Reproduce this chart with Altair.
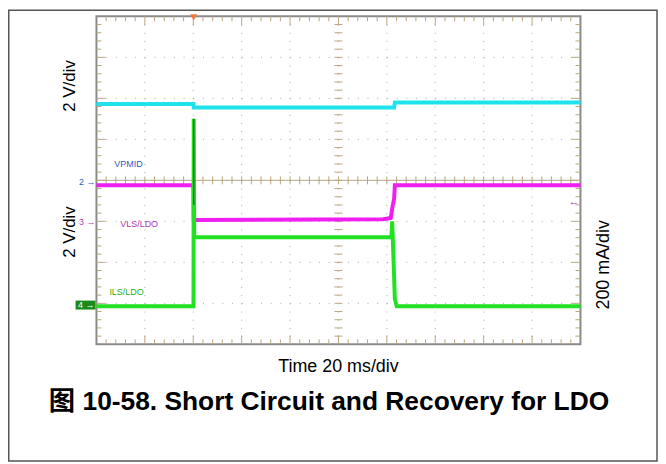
import altair as alt
import pandas as pd

# ---- data (time in ms: 20 ms/div x 10 div; vertical in screen divisions -4..4) ----
vpmid_t = [0, 40.1, 40.2, 123.0, 123.3, 200]
vpmid_v = [1.86, 1.86, 1.775, 1.775, 1.90, 1.90]

vls_t = [0, 40.1, 40.2, 118.5, 121.6, 122.4, 123.0, 123.3, 200]
vls_v = [-0.12, -0.12, -0.97, -0.95, -0.92, -0.62, -0.45, -0.12, -0.12]

ils_t = [0, 40.1, 40.2, 40.4, 121.9, 122.2, 122.5, 122.9, 123.3, 124.1, 200]
ils_v = [-3.07, -3.07, 1.5, -1.39, -1.39, -1.0, -1.5, -2.2, -2.9, -3.07, -3.07]

spike_t = [40.2, 40.2]
spike_v = [1.5, -0.6]

trigger_t = [40.2]

grid_t = [20, 40, 60, 80, 100, 120, 140, 160, 180]
grid_v = [-3, -2, -1, 0, 1, 2, 3]

W, H = 487, 330
TAN = "#b7a680"

rows = []
for name, ts, vs in [("VPMID", vpmid_t, vpmid_v), ("VLS/LDO", vls_t, vls_v), ("ILS/LDO", ils_t, ils_v)]:
    for i, (t, v) in enumerate(zip(ts, vs)):
        rows.append({"series": name, "t": t, "v": v, "i": i})
traces = pd.DataFrame(rows)
spike = pd.DataFrame({"t": spike_t, "v": spike_v, "i": [0, 1]})

xs = alt.Scale(domain=[0, 200], nice=False, zero=False)
ys = alt.Scale(domain=[-4, 4], nice=False, zero=False)
X = alt.X("t:Q", scale=xs, axis=None)
Y = alt.Y("v:Q", scale=ys, axis=None)

minor_t = [t for t in range(4, 200, 4) if t % 20 != 0]
major_t = [t for t in range(20, 200, 20)]
minor_v = [round(-4 + 0.2 * k, 2) for k in range(1, 40) if k % 5 != 0]
major_v = [round(-4 + 1.0 * k, 2) for k in range(1, 8)]
all_t = pd.DataFrame({"t": list(range(4, 200, 4))})
all_v = pd.DataFrame({"v": [round(-4 + 0.2 * k, 2) for k in range(1, 40)]})
dmt = pd.DataFrame({"t": minor_t})
dMt = pd.DataFrame({"t": major_t})
dmv = pd.DataFrame({"v": minor_v})
dMv = pd.DataFrame({"v": major_v})
one = pd.DataFrame({"a": [0]})

layers = []
# dotted grid
layers.append(alt.Chart(pd.DataFrame({"t": grid_t})).mark_rule(color="#a8a8a8", strokeWidth=1, strokeDash=[1, 7.25]).encode(
    x=X, y=alt.value(0), y2=alt.value(H)))
layers.append(alt.Chart(pd.DataFrame({"v": grid_v})).mark_rule(color="#a8a8a8", strokeWidth=1, strokeDash=[1, 8.74]).encode(
    y=Y, x=alt.value(0), x2=alt.value(W)))
# edge ticks
for d, L in [(dmt, 5), (dMt, 9)]:
    layers.append(alt.Chart(d).mark_rule(color=TAN, strokeWidth=1).encode(x=X, y=alt.value(0), y2=alt.value(L)))
    layers.append(alt.Chart(d).mark_rule(color=TAN, strokeWidth=1).encode(x=X, y=alt.value(H), y2=alt.value(H - L)))
for d, L in [(dmv, 5), (dMv, 9)]:
    layers.append(alt.Chart(d).mark_rule(color=TAN, strokeWidth=1).encode(y=Y, x=alt.value(0), x2=alt.value(L)))
    layers.append(alt.Chart(d).mark_rule(color=TAN, strokeWidth=1).encode(y=Y, x=alt.value(W), x2=alt.value(W - L)))
# centre crosshair
layers.append(alt.Chart(one).mark_rule(color=TAN, strokeWidth=1).encode(y=alt.value(H / 2), x=alt.value(0), x2=alt.value(W)))
layers.append(alt.Chart(all_t).mark_rule(color=TAN, strokeWidth=1).encode(x=X, y=alt.value(H / 2 - 4), y2=alt.value(H / 2 + 4)))
layers.append(alt.Chart(all_v).mark_rule(color=TAN, strokeWidth=1).encode(y=Y, x=alt.value(W / 2 - 4), x2=alt.value(W / 2 + 4)))

# traces
layers.append(alt.Chart(traces).mark_line(strokeWidth=4).encode(
    x=X, y=Y, order="i:Q",
    color=alt.Color("series:N", legend=None,
                    scale=alt.Scale(domain=["VPMID", "VLS/LDO", "ILS/LDO"], range=["#1ee3ec", "#f01ef0", "#22e022"]))))
layers.append(alt.Chart(spike).mark_line(strokeWidth=1.5, color="#2e6b35").encode(x=X, y=Y, order="i:Q"))

# trigger marker
layers.append(alt.Chart(pd.DataFrame({"t": trigger_t})).mark_point(shape="triangle-down", filled=True, size=50,
                                                                   color="#f07a3a", opacity=1).encode(x=X, y=alt.value(1)))

# channel markers and labels
def txt(s, x, y, **kw):
    return alt.Chart(one).mark_text(text=s, **kw).encode(x=alt.value(x), y=alt.value(y))

SANS = "Liberation Sans, Arial, sans-serif"
layers.append(txt("VPMID", 18, 149, align="left", baseline="middle", fontSize=9, color="#2a5cb8", font=SANS))
layers.append(txt("VLS/LDO", 24, 209, align="left", baseline="middle", fontSize=9, color="#b03ab0", font=SANS))
layers.append(txt("ILS/LDO", 13, 277, align="left", baseline="middle", fontSize=9, color="#22b022", font=SANS))
layers.append(txt("2 →", -1, 167, align="right", baseline="middle", fontSize=9, color="#2a5cb8", font=SANS))
layers.append(txt("3 →", -1, 206.5, align="right", baseline="middle", fontSize=9, color="#b03ab0", font=SANS))
layers.append(alt.Chart(one).mark_rect(color="#1a8a1a").encode(
    x=alt.value(-21), x2=alt.value(-1), y=alt.value(286), y2=alt.value(295)))
layers.append(txt("4 →", -2, 290.5, align="right", baseline="middle", fontSize=9, color="white", font=SANS))
layers.append(txt("←", W - 1, 187, align="right", baseline="middle", fontSize=11, color="#a030a0", font=SANS))

layers.append(txt("2 V/div", -27, 70, angle=270, align="center", baseline="middle", fontSize=17, color="black", font=SANS))
layers.append(txt("2 V/div", -27, 217, angle=270, align="center", baseline="middle", fontSize=17, color="black", font=SANS))
layers.append(txt("200 mA/div", 511, 250, angle=270, align="center", baseline="middle", fontSize=18, color="black", font=SANS))
layers.append(txt("Time 20 ms/div", W / 2, 353, align="center", baseline="middle", fontSize=18, color="black", font=SANS))
layers.append(txt("图 10-58. Short Circuit and Recovery for LDO", 234, 388, align="center", baseline="middle",
                  fontSize=26.5, fontWeight="bold", color="black",
                  font="Liberation Sans, Noto Sans CJK SC, sans-serif"))

# outer figure frame (as far out as the page margin allows)
layers.append(alt.Chart(one).mark_rect(fillOpacity=0, stroke="#555555", strokeWidth=1.5).encode(
    x=alt.value(-88.25), x2=alt.value(564), y=alt.value(-6.25), y2=alt.value(447.5)))

chart = alt.layer(*layers).properties(
    width=W, height=H,
    autosize=alt.AutoSizeParams(type="none"),
    padding={"left": 89, "top": 7, "right": 78, "bottom": 118},
).configure_view(stroke="#8a8a8a", strokeWidth=2)

chart.save("out.html", embed_options={"renderer": "svg", "actions": False})
